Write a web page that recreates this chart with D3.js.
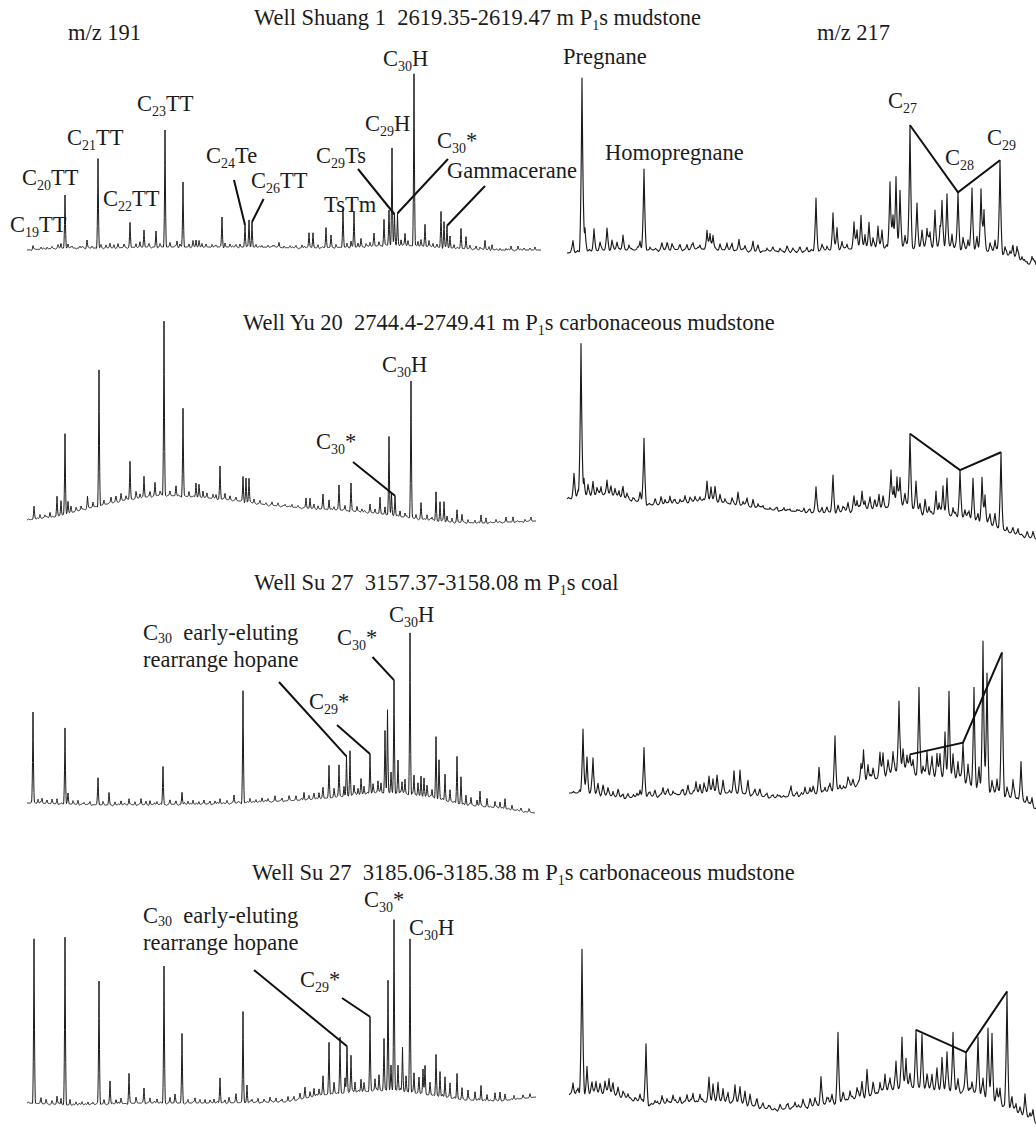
<!DOCTYPE html>
<html>
<head>
<meta charset="utf-8">
<script src="https://cdn.jsdelivr.net/npm/d3@7"></script>
<style>
  body { margin: 0; background: #fff; }
  text { font-family: "Liberation Serif", "Times New Roman", serif; fill: #1c1c1c; font-size: 22.5px; white-space: pre; }
</style>
</head>
<body>
<script>
// ---- texts ----
var titles = [
  "Well Shuang 1  2619.35-2619.47 m P_1_s mudstone",
  "Well Yu 20  2744.4-2749.41 m P_1_s carbonaceous mudstone",
  "Well Su 27  3157.37-3158.08 m P_1_s coal",
  "Well Su 27  3185.06-3185.38 m P_1_s carbonaceous mudstone"
];
var ionNames = ["m/z 191", "m/z 217"];
var names191 = ["C_19_TT", "C_20_TT", "C_21_TT", "C_22_TT", "C_23_TT", "C_24_Te", "C_26_TT",
                "C_29_Ts", "TsTm", "C_29_H", "C_30_H", "C_30_*", "Gammacerane"];
var names217 = ["Pregnane", "Homopregnane", "C_27", "C_28", "C_29"];
var earlyName = ["C_30_  early-eluting", "rearrange hopane"];

// ---- baselines: [scan, level] ----
var base1L = [[27,2],[60,4],[100,4],[150,5],[200,5],[260,5],[300,4],[360,5],[390,7],[420,6],[450,4],[500,2],[541,2]];
var base1R = [[567,17],[600,20],[650,20],[700,21],[760,19],[810,19],[850,21],[880,22],[920,23],[950,21],[990,19],[1003,16],[1015,11],[1036,3]];
var base2L = [[27,5],[54,8],[89,17],[125,25],[161,30],[196,28],[232,25],[268,20],[304,17],[339,15],[375,12],[411,7],[446,3],[482,2],[536,4]];
var base2R = [[567,41],[607,45],[640,38],[650,35],[673,36],[707,40],[740,35],[773,30],[807,28],[840,28],[873,31],[907,35],[923,26],[957,23],[990,16],[1007,8],[1036,1]];
var base3L = [[27,12],[107,10],[214,11],[304,15],[339,18],[375,22],[393,22],[429,18],[464,10],[500,7],[535,2]];
var base3R = [[569,19],[590,19],[623,14],[640,15],[673,17],[707,19],[740,19],[773,14],[807,17],[840,22],[873,32],[890,39],[907,42],[923,35],[957,32],[973,25],[1007,15],[1020,12],[1036,2]];
var base4L = [[27,4],[71,2],[143,4],[214,4],[286,5],[321,12],[357,15],[393,17],[429,12],[464,7],[500,6],[536,10]];
var base4R = [[569,29],[607,31],[640,22],[650,19],[673,21],[707,22],[740,21],[773,14],[807,17],[840,22],[873,29],[907,37],[940,34],[973,31],[1007,17],[1036,2]];

// ---- peaks: [scan, height above baseline] ----
var peaks1L = [[33,4],[41,2],[47,2],[52,2],[58,3],[61,5],[65,53],[68,4],[72,2],[80,2],[87,8],[92,2],[98,90],[101,3],[106,3],[110,4],[114,3],[118,4],[124,3],[130,25],[136,4],[140,5],[144,17],[149,3],[156,16],[160,3],[165,117],[170,4],[177,6],[180,3],[183,65],[189,3],[193,6],[196,7],[199,6],[202,4],[206,3],[212,3],[216,2],[222,30],[225,4],[230,3],[236,2],[240,3],[245,22],[249,27],[252,25],[256,3],[262,2],[268,2],[273,2],[279,5],[284,2],[290,2],[296,2],[302,3],[309,15],[313,15],[318,3],[326,20],[331,12],[336,3],[343,38],[347,4],[351,6],[354,35],[358,4],[361,8],[366,3],[370,4],[374,12],[379,4],[384,26],[389,35],[392,97],[394.5,30],[397.5,32],[401,6],[405,12],[408,5],[414,172],[418,5],[421,6],[425,22],[429,6],[433,4],[437,3],[441,36],[444,26],[447,22],[450,12],[454,4],[461,20],[466,12],[470,3],[476,3],[480,2],[485,9],[489,3],[492,5],[500,2],[506,2],[511,4],[518,4],[524,2],[530,2],[535,3]];
var peaks1R = [[573,12],[582,173],[585,23],[594,22],[600,8],[607,20],[612,10],[617,8],[623,16],[629,6],[640,10],[644,80],[650,4],[662,6],[667,5],[672,6],[680,4],[687,5],[693,6],[700,5],[707,20],[710,15],[713,14],[720,6],[727,8],[732,7],[739,12],[745,5],[753,10],[758,5],[767,4],[773,3],[780,3],[787,4],[793,3],[800,3],[807,4],[816,53],[822,6],[827,5],[833,38],[837,22],[842,8],[847,6],[854,28],[857,18],[861,33],[865,15],[869,25],[873,10],[878,22],[882,18],[890,66],[893,30],[896,70],[900,57],[905,12],[910,121],[917,42],[922,15],[927,18],[930,15],[935,36],[940,20],[942,46],[947,54],[952,15],[958,56],[963,12],[968,10],[972,61],[977,12],[981,61],[984,40],[990,8],[995,12],[1000,92],[1005,8],[1010,6],[1013,10],[1017,12],[1022,5],[1027,3],[1032,8],[1035,5]];
var peaks2L = [[34,12],[40,4],[45,3],[50,5],[57,20],[61,15],[65,80],[68,12],[71,6],[76,3],[81,4],[87.5,12],[93,5],[99,136],[104,4],[111,6],[116,5],[121,7],[126,4],[130,38],[136,6],[140,4],[144,21],[150,5],[155,13],[160,3],[164,174],[170,4],[176,10],[183,88],[189,5],[196,14],[199,12],[203,7],[207,5],[213,4],[216,4],[220,33],[225,6],[230,4],[236,3],[243,25],[246,24],[249,24],[254,4],[260,3],[266,2],[272,3],[278,3],[285,2],[292,3],[298,2],[306,10],[310,10],[314,4],[318,3],[323,14],[329,10],[334,3],[339,25],[345,5],[351,28],[357,5],[362,3],[370,8],[375,4],[380,16],[385,8],[389,78],[391.5,20],[395,20],[400,6],[405,4],[411,137],[416,4],[421,16],[427,5],[432,3],[436,29],[440,20],[444,20],[447,6],[452,4],[457,12],[462,8],[468,3],[475,3],[481,8],[486,5],[496,3],[506,5],[513,5],[525,2],[531,4]];
var peaks2R = [[574,23],[578,8],[581,153],[584,20],[588,12],[593,14],[597,8],[601,10],[607,15],[611,8],[615,8],[619,8],[623,10],[627,6],[633,3],[640,8],[644,65],[655,4],[661,7],[665,6],[670,8],[675,4],[680,5],[685,7],[690,5],[695,6],[700,5],[707,19],[711,14],[715,14],[720,8],[725,5],[732,6],[738,13],[743,5],[747,8],[753,8],[758,5],[763,4],[770,3],[777,3],[784,4],[790,3],[797,3],[804,4],[810,3],[816,25],[822,5],[827,4],[833,35],[838,6],[843,5],[848,8],[854,13],[857,10],[862,18],[865,10],[870,12],[875,6],[879,14],[883,10],[891,36],[894,20],[897,29],[900,28],[905,10],[910,70],[916,27],[920,8],[925,12],[929,8],[936,24],[939,12],[943,30],[947,36],[953,10],[960,47],[965,8],[969,8],[973,40],[978,8],[982,42],[985,28],[990,10],[995,12],[1001,75],[1007,6],[1013,5],[1018,7],[1027,3],[1033,6]];
var peaks3L = [[33,91],[38,4],[42,5],[47,3],[52,4],[57,5],[65,76],[68,10],[73,3],[78,4],[84,2],[90,3],[98,26],[103,3],[109,12],[115,3],[121,4],[129,6],[135,3],[141,6],[146,3],[150,4],[157,3],[163,38],[170,4],[176,3],[182,12],[188,3],[193,4],[199,3],[204,4],[210,3],[215,3],[220,5],[227,3],[234,8],[243,112],[250,4],[256,3],[262,4],[268,3],[275,5],[282,3],[289,4],[296,4],[304,8],[309,4],[314,5],[319,6],[323,10],[329,32],[334,8],[339,32],[344,10],[346.5,38],[350,45],[354,10],[358,6],[361,15],[364,8],[370,39],[373,8],[378,12],[381,10],[385,61],[387.5,83],[391,20],[394,113],[398,33],[402,12],[405,15],[410,162],[414,20],[418,12],[421,20],[424,18],[427,10],[432,8],[436,62],[439,38],[445,26],[450,12],[457,47],[461,27],[466,10],[471,8],[477,6],[480,15],[487,8],[495,6],[500,6],[505,10],[512,5],[521,3],[529,3]];
var peaks3R = [[583,64],[587,36],[593,35],[598,10],[603,8],[608,8],[613,6],[618,6],[623,4],[628,3],[637,4],[640,8],[644,49],[650,4],[655,5],[663,8],[668,6],[673,5],[683,5],[688,8],[696,12],[700,8],[704,10],[709,17],[713,14],[717,16],[723,12],[734,22],[740,23],[748,12],[755,6],[760,5],[767,4],[773,3],[780,3],[791,10],[797,4],[805,8],[810,8],[813,6],[819,23],[825,6],[830,8],[835,52],[840,6],[848,10],[853,6],[861,20],[863.5,31],[868,16],[873,10],[880,22],[883,22],[888,12],[893,20],[899,69],[903,20],[907,15],[910,14],[913,12],[919,86],[923,10],[927,25],[932,20],[937,25],[940,22],[945,48],[949,86],[953,25],[958,18],[963,38],[968,20],[974,100],[979,20],[983,148],[987,117],[992,12],[997,15],[1002,142],[1007,10],[1013,18],[1021,40],[1027,8],[1032,10]];
var peaks4L = [[34,164],[41,5],[46,4],[52,3],[57,8],[61,6],[65,167],[70,6],[76,3],[82,3],[88,3],[93,2],[99,123],[104,4],[110,23],[116,4],[121,5],[129,30],[136,5],[144,15],[150,5],[157,4],[164,137],[170,5],[175,8],[182,69],[188,3],[195,5],[200,3],[205,4],[210,3],[214,4],[220,25],[225,3],[229,5],[236,8],[243,91],[247,18],[252,3],[258,4],[264,3],[270,5],[276,4],[282,3],[288,5],[294,4],[300,6],[305,10],[310,5],[314,8],[319,6],[323,18],[329,51],[334,10],[340,55],[345,15],[347,45],[351,37],[355,10],[361,12],[364,8],[370,73],[375,12],[379,15],[384,52],[388,109],[391,25],[394,169],[398,25],[402.5,44],[406,15],[410,153],[414,20],[419,15],[423,25],[425,28],[430,12],[436,40],[440,25],[445,20],[450,15],[457,25],[462,12],[468,10],[475,8],[481,15],[487,6],[495,8],[500,8],[505,6],[514,4],[523,3],[530,4]];
var peaks4R = [[573,12],[578,6],[582,144],[587,28],[592,10],[596,12],[600,8],[605,12],[609,15],[613,10],[618,8],[623,6],[628,5],[635,3],[640,8],[646,60],[655,4],[662,8],[667,6],[673,8],[680,6],[687,8],[693,10],[700,8],[709,24],[713,18],[718,20],[723,14],[728,10],[735,18],[740,16],[745,12],[750,10],[757,6],[763,4],[770,3],[780,4],[788,5],[795,6],[803,8],[810,6],[815,8],[821,28],[827,6],[832,8],[838,68],[843,6],[850,10],[857,10],[862,15],[867,25],[873,10],[880,12],[885,18],[890,12],[896,28],[902,50],[906,30],[910,12],[916,55],[922,52],[927,12],[932,15],[937,20],[942,30],[947,38],[953,58],[958,12],[966,40],[972,10],[978,58],[983,18],[988,72],[992,67],[997,12],[1000,15],[1007,115],[1012,10],[1016,8],[1020,6],[1025,22],[1030,6],[1033,10]];

// ---- baseline noise, one digit per 3 scans ----
var fine1L = "1021120110201121013021102012101120110211201021121302110212011021201122011211020112321011220132211021120112102112021311021121021112021120110211021112010211012010210121";
var fine2L = "2132123121102121312021101212130212103121202131021120211213021120121102120121021102110212011021120131021212102121302112102312013121022132103121021201102110211201110210121";
var fine3L = "1221312121021312102120131212012131210212013121021201312120212013121021301212021310212013121302132131213221312423132423142312432142312432143212312313212312213121201210121";
var fine4L = "2121312021312102131202131201213210213120213121021312021312101213120213121031201213213121302131213231324231424132314243123142413231423132414231321213123121212312121212";
var fine1R = "2313242312132413231213241321231324132312142312132312213121321213121232121312131213212312131231213231324231425314253142435243153425314253425314253142536241352413241321";
var fine2R = "3242312432413242314231324213242313242132131213212312121312132121312123121312132131232132413243142531425314253142435243152431524315243524315241324312321314231321312131";
var fine3R = "2324231423142312431324213242313242132413242314232413242313241324231324132423142314253142531425314253642531425364253142536425314253642531425314253142531324231324132412";
var fine4R = "3242312432413242314231324213242313242132413242314232413242313241324231324132423142314253142531425314253142534253142534253142534253142534253142531425313242313241324131";

// sterane triangles (scan of C27, C28, C29 peaks)
var sterane = [[910, 958, 1000], [910, 960, 1001], [910, 963, 1002], [916, 966, 1007]];

// ---- layout ----
var W = 1036, H = 1128;
var svg = d3.select("body").append("svg").attr("width", W).attr("height", H);

var panels = [
  {base: base1L, peaks: peaks1L, fine: fine1L, x0: 27, x1: 541, floor: 252, side: "L"},
  {base: base1R, peaks: peaks1R, fine: fine1R, x0: 567, x1: 1036, floor: 270, side: "R"},
  {base: base2L, peaks: peaks2L, fine: fine2L, x0: 27, x1: 536, floor: 525, side: "L"},
  {base: base2R, peaks: peaks2R, fine: fine2R, x0: 567, x1: 1036, floor: 540, side: "R"},
  {base: base3L, peaks: peaks3L, fine: fine3L, x0: 27, x1: 535, floor: 815, side: "L"},
  {base: base3R, peaks: peaks3R, fine: fine3R, x0: 569, x1: 1036, floor: 812, side: "R"},
  {base: base4L, peaks: peaks4L, fine: fine4L, x0: 27, x1: 536, floor: 1107, side: "L"},
  {base: base4R, peaks: peaks4R, fine: fine4R, x0: 569, x1: 1036, floor: 1124, side: "R"}
];

// pointed peak shape, half-width w
function shape(d, w) {
  var a = Math.abs(d);
  if (a >= w) return 0;
  var r = 1 - a / w;
  return r * r;
}

// signal = baseline + peak shapes + noise bumps
function makeSignal(p) {
  var baseScale = d3.scaleLinear()
    .domain(p.base.map(function(d) { return d[0]; }))
    .range(p.base.map(function(d) { return d[1]; }))
    .clamp(true);
  var w = p.side == "L" ? 1.5 : 2.8;
  var nw = p.side == "L" ? 2.0 : 2.6;
  var off = p.side == "L" ? 1 : 2;
  var k = p.side == "L" ? 0.9 : 1.5;
  var bumps = [];
  for (var i = 0; i < p.fine.length; i++) {
    var xs = p.x0 + 1.5 + 3 * i;
    if (xs > p.x1) break;
    bumps.push([xs, (+p.fine[i] - off) * k]);
  }
  return function(x) {
    var v = baseScale(x);
    p.peaks.forEach(function(pk) { v += pk[1] * shape(x - pk[0], w); });
    bumps.forEach(function(b) { v += b[1] * shape(x - b[0], nw); });
    return v;
  };
}

panels.forEach(function(p) {
  p.xScale = d3.scaleLinear().domain([p.x0, p.x1]).range([p.x0, p.x1]);
  p.yScale = d3.scaleLinear().domain([0, 200]).range([p.floor, p.floor - 200]);
  p.f = makeSignal(p);
  var pts = d3.range(p.x0, p.x1 + 0.001, 0.25);
  var line = d3.line()
    .x(function(d) { return p.xScale(d); })
    .y(function(d) { return p.yScale(p.f(d)); });
  svg.append("path")
    .attr("d", line(pts))
    .attr("fill", "none")
    .attr("stroke", "#1a1a1a")
    .attr("stroke-width", p.side == "L" ? 1 : 1.15)
    .attr("stroke-linejoin", "round");
});

// text with "_sub_" markup
function addLabel(str, x, y, subShift) {
  var t = svg.append("text").attr("x", x).attr("y", y);
  var down = subShift || 5;
  var shift = 0;
  str.split("_").forEach(function(part, i) {
    if (part === "") return;
    var want = (i % 2 == 1) ? down : 0;
    var sp = t.append("tspan").text(part).attr("dy", want - shift);
    if (i % 2 == 1) sp.style("font-size", "14px");
    shift = want;
  });
  return t;
}

function peakTop(p, scan) {
  return [p.xScale(scan), p.yScale(p.f(scan))];
}

function leader(p, from, scan) {
  var top = peakTop(p, scan);
  svg.append("line")
    .attr("x1", from[0]).attr("y1", from[1])
    .attr("x2", top[0]).attr("y2", top[1])
    .attr("stroke", "#111").attr("stroke-width", 2);
}

// titles
var titlePos = [[254, 25], [243, 330], [254, 590], [252, 880]];
titles.forEach(function(t, i) { addLabel(t, titlePos[i][0], titlePos[i][1]); });
addLabel(ionNames[0], 68, 40);
addLabel(ionNames[1], 817, 40);

// m/z 191 labels of first sample
var pos191 = [[10, 232], [22, 185], [67, 145], [103, 206], [137, 111], [206, 163], [251, 188],
              [316, 163], [324, 212], [365, 131], [383, 66], [437, 148], [447, 178]];
names191.forEach(function(n, i) { addLabel(n, pos191[i][0], pos191[i][1]); });
leader(panels[0], [234, 180], 245);
leader(panels[0], [263.6, 199], 252);
leader(panels[0], [358, 169], 394.5);
leader(panels[0], [448, 159], 397.5);
leader(panels[0], [485, 186], 447);

// m/z 217 labels of first sample
var pos217 = [[563, 64], [605, 160], [888, 108], [945, 165], [987, 145]];
names217.forEach(function(n, i) { addLabel(n, pos217[i][0], pos217[i][1]); });

// sample 2
addLabel("C_30_*", 316, 449);
addLabel("C_30_H", 382, 372);
leader(panels[2], [353, 462], 395);

// sample 3
addLabel(earlyName[0], 143, 640, 3);
addLabel(earlyName[1], 143, 667);
addLabel("C_30_*", 337, 645);
addLabel("C_30_H", 389, 622);
addLabel("C_29_*", 309, 709);
leader(panels[4], [279, 682], 346.5);
leader(panels[4], [337, 725], 370);
leader(panels[4], [372.5, 657], 394);

// sample 4
addLabel(earlyName[0], 143, 923, 3);
addLabel(earlyName[1], 143, 950);
addLabel("C_30_*", 364, 907);
addLabel("C_30_H", 409, 935);
addLabel("C_29_*", 300, 987);
leader(panels[6], [254, 970], 347);
leader(panels[6], [342, 998], 370);

// sterane C27-C28-C29 polylines
sterane.forEach(function(s, i) {
  var p = panels[2 * i + 1];
  svg.append("path")
    .attr("d", d3.line()(s.map(function(sc) { return peakTop(p, sc); })))
    .attr("fill", "none")
    .attr("stroke", "#111")
    .attr("stroke-width", 2)
    .attr("stroke-linejoin", "miter");
});
</script>
</body>
</html>
